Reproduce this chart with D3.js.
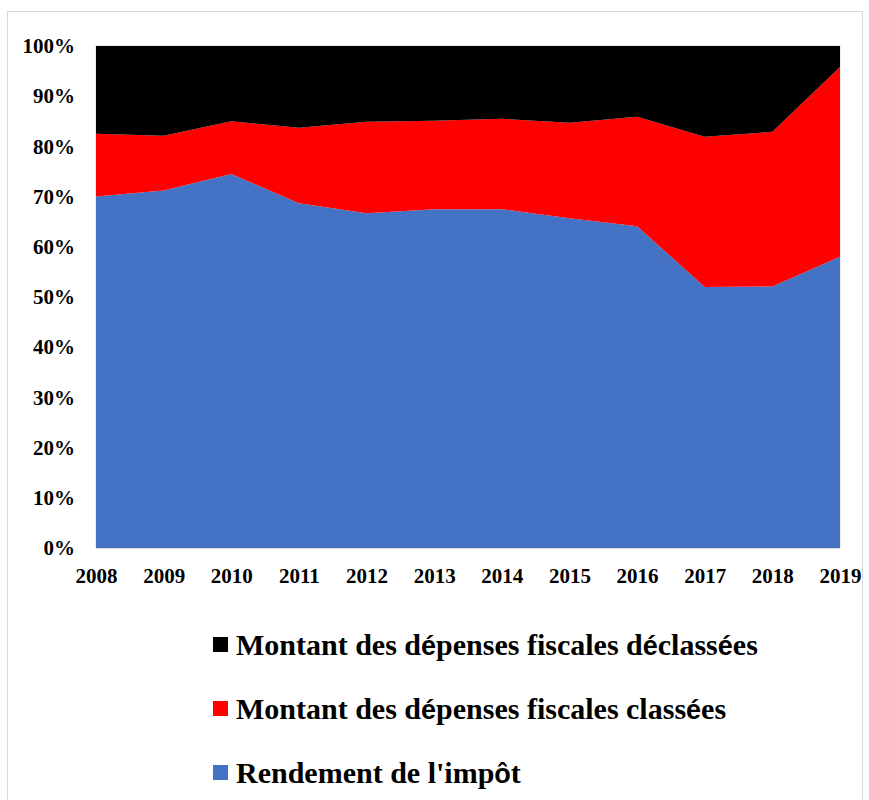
<!DOCTYPE html>
<html>
<head>
<meta charset="utf-8">
<script src="https://cdn.jsdelivr.net/npm/d3@7"></script>
<style>
  body { margin: 0; background: #fff; }
  svg text { font-family: "Liberation Serif", "Times New Roman", serif; font-weight: bold; fill: #000; }
</style>
</head>
<body>
<div id="chart"></div>
<script>
// Years on the x axis
const years = [2008, 2009, 2010, 2011, 2012, 2013, 2014, 2015, 2016, 2017, 2018, 2019];
// Shares in %
const rendement = [70.0, 71.2, 74.5, 68.7, 66.7, 67.5, 67.5, 65.7, 64.1, 52.0, 52.1, 58.0];
const classees = [12.5, 10.9, 10.5, 15.0, 18.2, 17.6, 18.0, 19.0, 21.8, 29.9, 30.8, 37.8];
const declassees = [17.5, 17.9, 15.0, 16.3, 15.1, 14.9, 14.5, 15.3, 14.1, 18.1, 17.1, 4.2];
const yTicks = [0, 10, 20, 30, 40, 50, 60, 70, 80, 90, 100];

const width = 869;
const height = 800;
const margin = { top: 46, right: 29, bottom: 252, left: 96 };

const svg = d3
  .select("#chart")
  .append("svg")
  .attr("width", width)
  .attr("height", height);

// outer chart border
svg
  .append("rect")
  .attr("x", 7.5)
  .attr("y", 11.5)
  .attr("width", 855)
  .attr("height", 800)
  .attr("fill", "none")
  .attr("stroke", "#d9d9d9");

const x = d3
  .scaleLinear()
  .domain(d3.extent(years))
  .range([margin.left, width - margin.right]);

const y = d3
  .scaleLinear()
  .domain([0, 100])
  .range([height - margin.bottom, margin.top]);

// build table for the stack
const keys = ["rendement", "classees", "declassees"];
const table = years.map((yr, i) => ({
  year: yr,
  rendement: rendement[i],
  classees: classees[i],
  declassees: declassees[i],
}));

const stack = d3.stack().keys(keys).offset(d3.stackOffsetExpand);
const series = stack(table);

const color = d3
  .scaleOrdinal()
  .domain(keys)
  .range(["#4472c4", "#ff0000", "#000000"]);

const area = d3
  .area()
  .x((d) => x(d.data.year))
  .y0((d) => y(d[0] * 100))
  .y1((d) => y(d[1] * 100));

// plot area frame
svg
  .append("rect")
  .attr("x", x.range()[0])
  .attr("y", y(100))
  .attr("width", x.range()[1] - x.range()[0])
  .attr("height", y(0) - y(100))
  .attr("fill", "none")
  .attr("stroke", "#d9d9d9");

svg
  .selectAll("path.area")
  .data(series)
  .enter()
  .append("path")
  .attr("class", "area")
  .attr("d", area)
  .attr("fill", (d) => color(d.key));

// y axis labels
const yAxis = d3
  .axisLeft(y)
  .tickValues(yTicks)
  .tickFormat((d) => d + "%")
  .tickSize(0)
  .tickPadding(21);

svg
  .append("g")
  .attr("transform", `translate(${margin.left},0)`)
  .call(yAxis)
  .call((g) => g.select(".domain").remove())
  .selectAll("text")
  .style("font-family", '"Liberation Serif", serif')
  .style("font-weight", "bold")
  .style("font-size", "21px");

// x axis labels
const xAxis = d3
  .axisBottom(x)
  .tickValues(years)
  .tickFormat(d3.format("d"))
  .tickSize(0)
  .tickPadding(20);

svg
  .append("g")
  .attr("transform", `translate(0,${y(0)})`)
  .call(xAxis)
  .call((g) => g.select(".domain").attr("stroke", "#d9d9d9"))
  .selectAll("text")
  .style("font-family", '"Liberation Serif", serif')
  .style("font-weight", "bold")
  .style("font-size", "21px");

// legend (accented letters fall back to a sans face in the original)
const legendItems = [
  { key: "declassees", parts: ["Montant des d", "é", "penses fiscales d", "é", "class", "é", "es"] },
  { key: "classees", parts: ["Montant des d", "é", "penses fiscales class", "é", "es"] },
  { key: "rendement", parts: ["Rendement de l'imp", "ô", "t"] },
];

const legend = svg.append("g").attr("transform", "translate(213, 645)");

const rows = legend
  .selectAll("g")
  .data(legendItems)
  .enter()
  .append("g")
  .attr("transform", (d, i) => `translate(0, ${i * 64})`);

rows
  .append("rect")
  .attr("x", 0)
  .attr("y", -8)
  .attr("width", 15)
  .attr("height", 15)
  .attr("fill", (d) => color(d.key));

const label = rows
  .append("text")
  .attr("x", 23)
  .attr("y", 10)
  .style("font-size", "30px");

label
  .selectAll("tspan")
  .data((d) => d.parts)
  .enter()
  .append("tspan")
  .style("font-family", (d) => (/[éô]/.test(d) ? '"Liberation Sans", sans-serif' : null))
  .style("font-size", (d) => (/[éô]/.test(d) ? "27px" : null))
  .text((d) => d);
</script>
</body>
</html>
